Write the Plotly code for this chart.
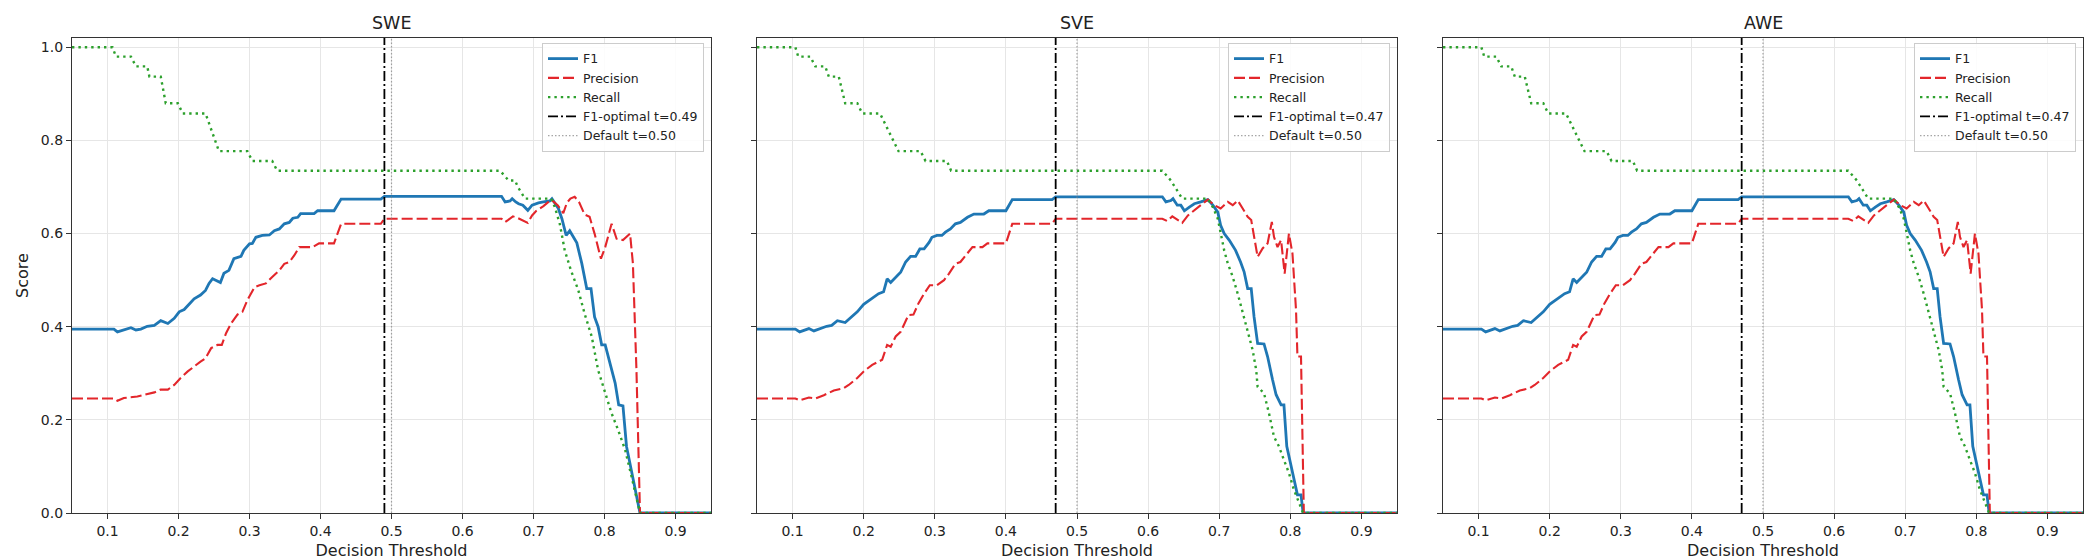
import plotly.graph_objects as go

# threshold sweeps (x = decision threshold, y = score)
swe_f1_x = [0.05, 0.109, 0.114, 0.126, 0.133, 0.14, 0.147, 0.156, 0.166, 0.175,
            0.185, 0.194, 0.201, 0.208, 0.215, 0.222, 0.231, 0.238, 0.243, 0.248,
            0.259, 0.264, 0.271, 0.278, 0.288, 0.292, 0.30, 0.304, 0.309, 0.318,
            0.328, 0.335, 0.342, 0.349, 0.356, 0.361, 0.368, 0.372, 0.391, 0.396,
            0.419, 0.429, 0.485, 0.49, 0.655, 0.66, 0.667, 0.67, 0.675, 0.679,
            0.685, 0.692, 0.698, 0.707, 0.714, 0.723, 0.726, 0.735, 0.74, 0.746,
            0.751, 0.756, 0.761, 0.768, 0.775, 0.781, 0.786, 0.791, 0.796, 0.801,
            0.808, 0.815, 0.82, 0.826, 0.831, 0.838, 0.845, 0.85, 0.95]
swe_f1 = [0.395, 0.395, 0.389, 0.395, 0.398, 0.393, 0.395, 0.401, 0.403, 0.413,
          0.407, 0.418, 0.432, 0.437, 0.448, 0.46, 0.468, 0.478, 0.493, 0.503,
          0.495, 0.515, 0.521, 0.546, 0.551, 0.564, 0.578, 0.579, 0.592, 0.596,
          0.597, 0.606, 0.61, 0.621, 0.624, 0.633, 0.635, 0.643, 0.643, 0.649,
          0.649, 0.674, 0.674, 0.68, 0.68, 0.668, 0.67, 0.675, 0.668, 0.664,
          0.661, 0.65, 0.661, 0.666, 0.668, 0.67, 0.675, 0.654, 0.632, 0.596,
          0.606, 0.593, 0.58, 0.536, 0.482, 0.482, 0.421, 0.40, 0.361, 0.361,
          0.321, 0.279, 0.232, 0.23, 0.143, 0.093, 0.043, 0.0, 0.0]

swe_prec_x = [0.05, 0.109, 0.114, 0.123, 0.142, 0.156, 0.166, 0.175, 0.185, 0.194,
              0.203, 0.213, 0.222, 0.231, 0.238, 0.246, 0.255, 0.261, 0.267, 0.274,
              0.283, 0.29, 0.297, 0.307, 0.314, 0.323, 0.332, 0.342, 0.349, 0.356,
              0.363, 0.37, 0.389, 0.398, 0.419, 0.429, 0.485, 0.49, 0.655, 0.66,
              0.664, 0.671, 0.677, 0.685, 0.692, 0.698, 0.704, 0.714, 0.725, 0.734,
              0.742, 0.747, 0.752, 0.758, 0.764, 0.772, 0.779, 0.786, 0.795, 0.801,
              0.81, 0.817, 0.826, 0.836, 0.84, 0.845, 0.85, 0.95]
swe_prec = [0.246, 0.246, 0.241, 0.247, 0.25, 0.256, 0.259, 0.265, 0.265, 0.275,
            0.29, 0.304, 0.315, 0.325, 0.332, 0.354, 0.361, 0.361, 0.386, 0.407,
            0.426, 0.432, 0.457, 0.485, 0.489, 0.493, 0.507, 0.521, 0.535, 0.539,
            0.553, 0.571, 0.571, 0.579, 0.579, 0.621, 0.621, 0.632, 0.632, 0.625,
            0.629, 0.637, 0.634, 0.629, 0.623, 0.639, 0.649, 0.659, 0.673, 0.661,
            0.644, 0.666, 0.675, 0.679, 0.668, 0.641, 0.636, 0.60, 0.546, 0.571,
            0.621, 0.589, 0.586, 0.60, 0.536, 0.307, 0.0, 0.0]

swe_rec_x = [0.05, 0.107, 0.112, 0.133, 0.14, 0.156, 0.159, 0.175, 0.182, 0.199,
             0.206, 0.238, 0.257, 0.297, 0.304, 0.332, 0.339, 0.653, 0.665, 0.674,
             0.678, 0.688, 0.725, 0.73, 0.737, 0.744, 0.753, 0.763, 0.772, 0.782,
             0.791, 0.80, 0.81, 0.819, 0.829, 0.838, 0.847, 0.85, 0.95]
swe_rec = [1.0, 1.0, 0.98, 0.98, 0.959, 0.959, 0.937, 0.937, 0.88, 0.88,
           0.858, 0.858, 0.777, 0.777, 0.756, 0.756, 0.735, 0.735, 0.714, 0.714,
           0.70, 0.675, 0.675, 0.657, 0.621, 0.564, 0.52, 0.479, 0.428, 0.379,
           0.307, 0.264, 0.214, 0.179, 0.136, 0.079, 0.021, 0.0, 0.0]

sve_f1_x = [0.05, 0.104, 0.11, 0.123, 0.13, 0.137, 0.148, 0.155, 0.163, 0.174,
            0.181, 0.191, 0.2, 0.212, 0.221, 0.228, 0.233, 0.238, 0.245, 0.252,
            0.259, 0.266, 0.273, 0.279, 0.285, 0.292, 0.296, 0.303, 0.31, 0.315,
            0.322, 0.329, 0.336, 0.346, 0.355, 0.369, 0.376, 0.40, 0.409, 0.465,
            0.47, 0.62, 0.625, 0.632, 0.635, 0.641, 0.646, 0.651, 0.658, 0.665,
            0.674, 0.684, 0.691, 0.698, 0.702, 0.707, 0.714, 0.723, 0.73, 0.735,
            0.74, 0.745, 0.749, 0.754, 0.763, 0.768, 0.775, 0.78, 0.787, 0.791,
            0.795, 0.801, 0.806, 0.81, 0.815, 0.818, 0.95]
sve_f1 = [0.395, 0.395, 0.389, 0.396, 0.391, 0.395, 0.401, 0.403, 0.413, 0.409,
          0.418, 0.432, 0.448, 0.462, 0.471, 0.475, 0.503, 0.495, 0.507, 0.517,
          0.539, 0.551, 0.551, 0.567, 0.567, 0.581, 0.592, 0.596, 0.596, 0.603,
          0.61, 0.621, 0.624, 0.635, 0.642, 0.642, 0.649, 0.649, 0.673, 0.673,
          0.679, 0.679, 0.668, 0.671, 0.675, 0.661, 0.661, 0.649, 0.657, 0.664,
          0.668, 0.673, 0.661, 0.646, 0.618, 0.60, 0.586, 0.564, 0.539, 0.518,
          0.482, 0.482, 0.421, 0.364, 0.363, 0.336, 0.286, 0.254, 0.232, 0.232,
          0.143, 0.10, 0.064, 0.039, 0.039, 0.0, 0.0]

sve_prec_x = [0.05, 0.104, 0.11, 0.123, 0.132, 0.144, 0.158, 0.172, 0.179, 0.191,
              0.2, 0.212, 0.226, 0.233, 0.238, 0.245, 0.252, 0.259, 0.263, 0.27,
              0.277, 0.285, 0.293, 0.303, 0.313, 0.32, 0.329, 0.336, 0.343, 0.353,
              0.367, 0.374, 0.40, 0.409, 0.465, 0.47, 0.62, 0.627, 0.634, 0.641,
              0.648, 0.656, 0.665, 0.674, 0.684, 0.693, 0.702, 0.712, 0.719, 0.726,
              0.733, 0.74, 0.745, 0.754, 0.761, 0.768, 0.774, 0.777, 0.782, 0.787,
              0.792, 0.795, 0.798, 0.803, 0.808, 0.81, 0.815, 0.819, 0.95]
sve_prec = [0.246, 0.246, 0.242, 0.248, 0.246, 0.253, 0.263, 0.268, 0.275, 0.29,
            0.304, 0.318, 0.329, 0.361, 0.357, 0.379, 0.389, 0.414, 0.425, 0.426,
            0.45, 0.471, 0.489, 0.489, 0.50, 0.514, 0.535, 0.539, 0.553, 0.571,
            0.571, 0.579, 0.579, 0.621, 0.621, 0.632, 0.632, 0.627, 0.637, 0.629,
            0.623, 0.639, 0.651, 0.661, 0.673, 0.661, 0.654, 0.668, 0.661, 0.671,
            0.654, 0.636, 0.629, 0.55, 0.568, 0.579, 0.625, 0.593, 0.571, 0.586,
            0.514, 0.564, 0.60, 0.557, 0.436, 0.336, 0.336, 0.0, 0.0]

sve_rec_x = [0.05, 0.104, 0.108, 0.125, 0.132, 0.146, 0.151, 0.165, 0.174, 0.191,
             0.198, 0.223, 0.249, 0.28, 0.287, 0.317, 0.323, 0.62, 0.632, 0.641,
             0.648, 0.684, 0.691, 0.698, 0.702, 0.707, 0.712, 0.719, 0.726, 0.733,
             0.74, 0.747, 0.752, 0.754, 0.763, 0.77, 0.777, 0.784, 0.791, 0.798,
             0.805, 0.811, 0.817, 0.818, 0.95]
sve_rec = [1.0, 1.0, 0.98, 0.98, 0.959, 0.959, 0.937, 0.937, 0.88, 0.88,
           0.858, 0.858, 0.777, 0.777, 0.756, 0.756, 0.735, 0.735, 0.714, 0.693,
           0.675, 0.675, 0.657, 0.632, 0.60, 0.564, 0.536, 0.507, 0.471, 0.429,
           0.393, 0.35, 0.307, 0.271, 0.257, 0.214, 0.164, 0.143, 0.114, 0.086,
           0.05, 0.025, 0.004, 0.0, 0.0]

# AWE reads the same as SVE on the picture
awe_f1_x, awe_f1 = list(sve_f1_x), list(sve_f1)
awe_prec_x, awe_prec = list(sve_prec_x), list(sve_prec)
awe_rec_x, awe_rec = list(sve_rec_x), list(sve_rec)

titles = ["SWE", "SVE", "AWE"]
opt_thresholds = [0.49, 0.47, 0.47]
default_threshold = 0.50

panels = [
    (swe_f1_x, swe_f1, swe_prec_x, swe_prec, swe_rec_x, swe_rec),
    (sve_f1_x, sve_f1, sve_prec_x, sve_prec, sve_rec_x, sve_rec),
    (awe_f1_x, awe_f1, awe_prec_x, awe_prec, awe_rec_x, awe_rec),
]

FONT = "DejaVu Sans"
W, H = 2093, 560
ML, MR, MT, MB = 64, 18, 30, 53
PW = W - ML - MR
# axes boxes in pixels (left, right)
boxes = [(64, 703), (749, 1389), (1435, 2075)]

fig = go.Figure()

for i, (fx, fy, px, py, rx, ry) in enumerate(panels):
    n = "" if i == 0 else str(i + 1)
    leg = "legend" + n
    xa, ya = "x" + n, "y" + n
    common = dict(xaxis=xa, yaxis=ya, legend=leg, mode="lines", hoverinfo="skip")
    fig.add_trace(go.Scatter(x=fx, y=fy, name="F1",
                             line=dict(color="#1f77b4", width=2.8), **common))
    fig.add_trace(go.Scatter(x=px, y=py, name="Precision",
                             line=dict(color="#e3262b", width=2.1, dash="11px,4px"), **common))
    fig.add_trace(go.Scatter(x=rx, y=ry, name="Recall",
                             line=dict(color="#2ca02c", width=2.4, dash="2.4px,4px"), **common))
    t = opt_thresholds[i]
    fig.add_trace(go.Scatter(x=[t, t], y=[0, 1.02], name=f"F1-optimal t={t:.2f}",
                             line=dict(color="black", width=1.8, dash="10px,3px,2px,3px"), **common))
    fig.add_trace(go.Scatter(x=[default_threshold] * 2, y=[0, 1.02],
                             name=f"Default t={default_threshold:.2f}",
                             line=dict(color="rgba(128,128,128,0.7)", width=1.2, dash="1.5px,2px"),
                             **common))

    left, right = boxes[i]
    dom = [(left - ML) / PW, (right - ML) / PW]
    axis_style = dict(showline=True, linecolor="#333333", linewidth=1.2, mirror=True,
                      ticks="outside", ticklen=5, tickwidth=1.2, tickcolor="#333333",
                      showgrid=True, gridcolor="#e6e6e6", gridwidth=1, zeroline=False,
                      tickfont=dict(family=FONT, size=14, color="#222222"))
    fig.layout["xaxis" + n] = dict(
        domain=dom, range=[0.05, 0.95], anchor=ya, tickmode="linear", tick0=0.1, dtick=0.1,
        tickformat=".1f",
        title=dict(text="Decision Threshold", standoff=6,
                   font=dict(family=FONT, size=16, color="#222222")),
        **axis_style)
    fig.layout["yaxis" + n] = dict(
        domain=[0, 1], range=[0, 1.02], anchor=xa, tickmode="linear", tick0=0, dtick=0.2,
        tickformat=".1f", showticklabels=(i == 0),
        title=dict(text="Score" if i == 0 else "", standoff=8,
                   font=dict(family=FONT, size=16, color="#222222")),
        **axis_style)
    fig.layout[leg] = dict(
        x=(right - 7 - ML) / PW, y=1 - 5 / (H - MT - MB), xanchor="right", yanchor="top",
        bgcolor="rgba(255,255,255,0.85)", bordercolor="#cccccc", borderwidth=1,
        font=dict(family=FONT, size=12.5, color="#222222"), itemwidth=30, tracegroupgap=0)
    fig.add_annotation(text=titles[i], xref="paper", yref="paper",
                       x=(dom[0] + dom[1]) / 2, y=1, xanchor="center", yanchor="bottom",
                       yshift=3, showarrow=False,
                       font=dict(family=FONT, size=17.5, color="#222222"))

fig.update_layout(
    width=W, height=H,
    margin=dict(l=ML, r=MR, t=MT, b=MB),
    paper_bgcolor="white", plot_bgcolor="white",
    font=dict(family=FONT, color="#222222"),
)

fig.write_html("out.html")
